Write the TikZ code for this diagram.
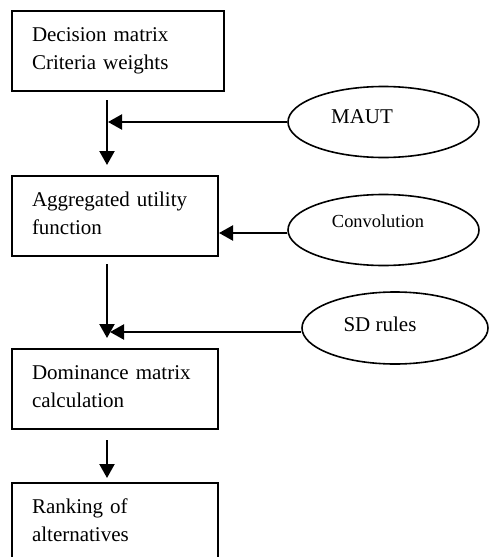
\documentclass[tikz,border=0pt]{standalone}
\usepackage{fontspec}
\setmainfont{Liberation Serif}
\usetikzlibrary{arrows.meta,shapes.geometric}
\newcommand{\bstrut}{\rule[-9.5pt]{0pt}{27pt}}
\begin{document}
\begin{tikzpicture}[x=1pt,y=-1pt,
  stepbox/.style={draw,line width=2pt,anchor=north west,align=left,inner xsep=20pt,inner ysep=12.5pt,font=\fontsize{21}{25}\selectfont,text width=166pt},
  oval/.style={draw,ellipse,line width=1.6pt,minimum width=191pt,minimum height=71pt,inner sep=0pt},
  arr/.style={line width=2.2pt,-{Triangle[length=14pt,width=15pt]}},
  lab/.style={font=\fontsize{21}{25}\selectfont,inner sep=0pt}]
\useasboundingbox (0,0) rectangle (488,557);
% main boxes
\node[stepbox,text width=172pt] (b1) at (11,10) {\bstrut Decision matrix\\Criteria weights\bstrut};
\node[stepbox] (b2) at (11,175) {\bstrut Aggregated utility\\function\bstrut};
\node[stepbox] (b3) at (11,348) {\bstrut Dominance matrix\\calculation\bstrut};
\node[stepbox] (b4) at (11,482) {\bstrut Ranking of\\alternatives\bstrut};
% vertical arrows
\draw[arr,shorten <=8pt,shorten >=10pt] ([xshift=96pt]b1.south west) -- ([xshift=96pt]b2.north west);
\draw[arr,shorten <=7pt,shorten >=10pt] ([xshift=96pt]b2.south west) -- ([xshift=96pt]b3.north west);
\draw[arr,shorten <=10pt,shorten >=4pt] ([xshift=96pt]b3.south west) -- ([xshift=96pt]b4.north west);
% ellipses
\node[oval] (maut) at (383.5,122) {};
\node[lab] (tmaut) at (362,116.5) {MAUT};
\node[oval] (conv) at (383.5,230) {};
\node[lab,font=\fontsize{18.4}{22}\selectfont] (tconv) at (378,221.5) {Convolution};
\node[oval,minimum width=186pt,minimum height=72pt] (sd) at (395,328) {};
\node[lab] (tsd) at (380,324.5) {SD rules};
% side arrows
\coordinate (j1) at (108,122);
\draw[arr] (maut.west) -- (j1);
\coordinate (c2) at ([yshift=-3pt]conv.west);
\draw[arr] (c2) -- (c2 -| b2.east);
\coordinate (c3) at ([yshift=-4pt]sd.west);
\coordinate (j3) at (110,332);
\draw[arr] (c3) -- (j3);
\end{tikzpicture}
\end{document}
